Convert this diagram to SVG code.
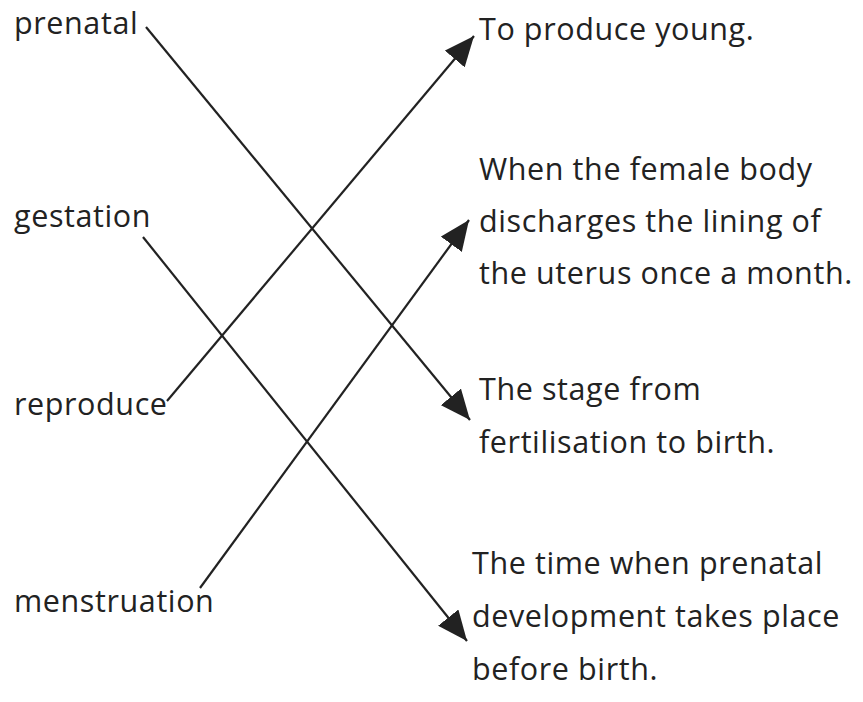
<svg xmlns="http://www.w3.org/2000/svg" width="863" height="702" viewBox="0 0 863 702">
<style>
text{font-family:"Open Sans","Noto Sans",sans-serif;font-size:30.5px;letter-spacing:0.6px;fill:#222}
.c line{stroke:#222;stroke-width:2.2;marker-end:url(#ah)}
</style>
<defs>
<marker id="ah" markerUnits="userSpaceOnUse" markerWidth="32" markerHeight="26" viewBox="0 0 32 26" refX="30" refY="13" orient="auto">
<path d="M0,0 L30,13 L0,26 Z" fill="#222"/>
</marker>
</defs>
<rect width="863" height="702" fill="#fff"/>
<g id="prenatal"><text x="14" y="34">prenatal</text></g>
<g id="gestation"><text x="14" y="227">gestation</text></g>
<g id="reproduce"><text x="14" y="415">reproduce</text></g>
<g id="menstruation"><text x="14" y="612">menstruation</text></g>
<g id="def1"><text x="479" y="40">To produce young.</text></g>
<g id="def2"><text x="479" y="180">When the female body</text><text x="479" y="232">discharges the lining of</text><text x="479" y="284">the uterus once a month.</text></g>
<g id="def3"><text x="479" y="400">The stage from</text><text x="479" y="453">fertilisation to birth.</text></g>
<g id="def4"><text x="472" y="574">The time when prenatal</text><text x="472" y="627">development takes place</text><text x="472" y="680">before birth.</text></g>
<g class="c" id="connectors">
<line x1="146" y1="27" x2="470" y2="420"/>
<line x1="143" y1="237" x2="467" y2="641"/>
<line x1="167" y1="401" x2="474" y2="36"/>
<line x1="200" y1="588" x2="469" y2="220"/>
</g>
</svg>
